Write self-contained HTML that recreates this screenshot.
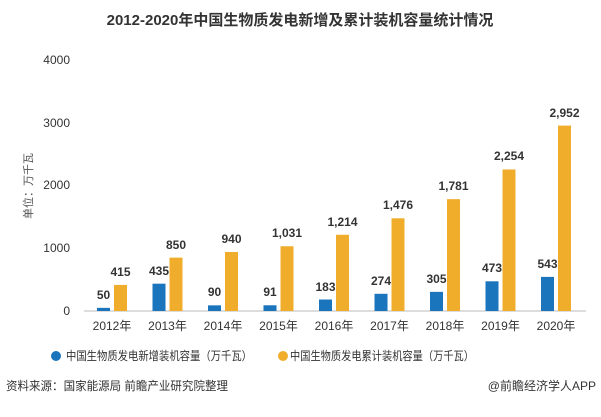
<!DOCTYPE html>
<html><head><meta charset="utf-8"><style>
body{margin:0;background:#fff;}
svg text{font-family:"Liberation Sans","Noto Sans CJK SC",sans-serif;}
</style></head><body>
<svg width="601" height="412" viewBox="0 0 601 412" xmlns="http://www.w3.org/2000/svg">
<rect width="601" height="412" fill="#fff"/>
<text x="300" y="25" text-anchor="middle" font-size="15" font-weight="bold" fill="#333">2012-2020年中国生物质发电新增及累计装机容量统计情况</text>
<g font-size="12" fill="#333" text-anchor="end">
<text x="70" y="315">0</text>
<text x="70" y="252">1000</text>
<text x="70" y="189">2000</text>
<text x="70" y="127">3000</text>
<text x="70" y="64">4000</text>
</g>
<text transform="translate(32,186) rotate(-90)" font-size="11" fill="#555" text-anchor="middle">单位：万千瓦</text>
<line x1="84" y1="311" x2="586" y2="311" stroke="#bbb" stroke-width="1"/>
<g fill="#1a75bc">
<rect x="97" y="307.86" width="13" height="3.14"/>
<rect x="152.5" y="283.68" width="13" height="27.32"/>
<rect x="208" y="305.35" width="13" height="5.65"/>
<rect x="263.5" y="305.29" width="13" height="5.71"/>
<rect x="319" y="299.51" width="13" height="11.49"/>
<rect x="374.5" y="293.79" width="13" height="17.21"/>
<rect x="430" y="291.85" width="13" height="19.15"/>
<rect x="485.5" y="281.3" width="13" height="29.7"/>
<rect x="541" y="276.9" width="13" height="34.1"/>
</g>
<g fill="#f0ad2b">
<rect x="114" y="284.94" width="13" height="26.06"/>
<rect x="169.5" y="257.62" width="13" height="53.38"/>
<rect x="225" y="251.97" width="13" height="59.03"/>
<rect x="280.5" y="246.25" width="13" height="64.75"/>
<rect x="336" y="234.76" width="13" height="76.24"/>
<rect x="391.5" y="218.31" width="13" height="92.69"/>
<rect x="447" y="199.15" width="13" height="111.85"/>
<rect x="502.5" y="169.45" width="13" height="141.55"/>
<rect x="558" y="125.61" width="13" height="185.39"/>
</g>
<g font-size="12" font-weight="bold" fill="#333" text-anchor="middle">
<text x="103.5" y="299">50</text>
<text x="159" y="275">435</text>
<text x="214.5" y="296">90</text>
<text x="270" y="296">91</text>
<text x="325.5" y="291">183</text>
<text x="381" y="285">274</text>
<text x="436.5" y="283">305</text>
<text x="492" y="272">473</text>
<text x="547.5" y="268">543</text>
<text x="120.5" y="276">415</text>
<text x="176" y="249">850</text>
<text x="231.5" y="243">940</text>
<text x="287" y="237">1,031</text>
<text x="342.5" y="226">1,214</text>
<text x="398" y="209">1,476</text>
<text x="453.5" y="190">1,781</text>
<text x="509" y="160">2,254</text>
<text x="564.5" y="117">2,952</text>
</g>
<g font-size="12" fill="#333" text-anchor="middle">
<text x="112" y="330">2012年</text>
<text x="167.5" y="330">2013年</text>
<text x="223" y="330">2014年</text>
<text x="278.5" y="330">2015年</text>
<text x="334" y="330">2016年</text>
<text x="389.5" y="330">2017年</text>
<text x="445" y="330">2018年</text>
<text x="500.5" y="330">2019年</text>
<text x="556" y="330">2020年</text>
</g>
<circle cx="56" cy="356" r="5" fill="#1a75bc"/>
<text x="66" y="360" font-size="12" fill="#333" textLength="186" lengthAdjust="spacingAndGlyphs">中国生物质发电新增装机容量（万千瓦）</text>
<circle cx="283" cy="356" r="5" fill="#f0ad2b"/>
<text x="290" y="360" font-size="12" fill="#333" textLength="184" lengthAdjust="spacingAndGlyphs">中国生物质发电累计装机容量（万千瓦）</text>
<text x="6" y="390" font-size="12" fill="#333" textLength="222" lengthAdjust="spacingAndGlyphs">资料来源：国家能源局 前瞻产业研究院整理</text>
<text x="596" y="390" font-size="12" fill="#333" text-anchor="end">@前瞻经济学人APP</text>
</svg>
</body></html>
